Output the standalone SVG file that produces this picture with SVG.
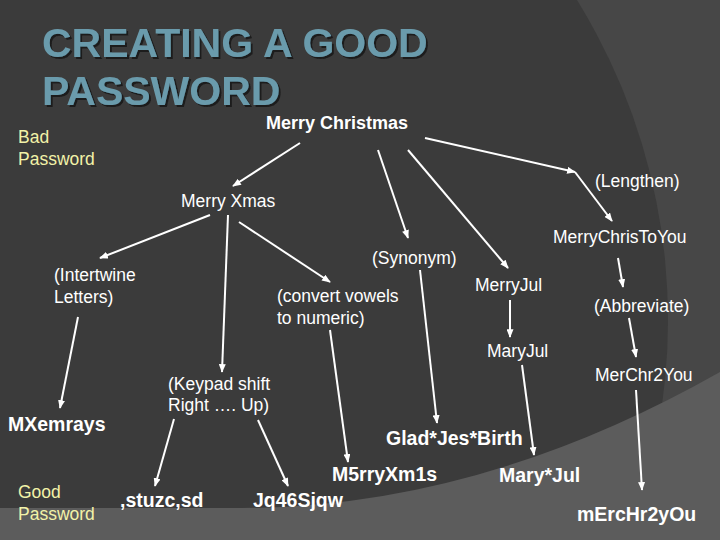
<svg xmlns="http://www.w3.org/2000/svg" width="720" height="540" viewBox="0 0 720 540">
<defs>
<style>
.title{font-family:"Liberation Sans",Arial,sans-serif;font-weight:bold;font-size:41px;fill:#6b9bac;filter:url(#sh)}
.lab{font-family:"Liberation Sans",Arial,sans-serif;font-size:17.5px;fill:#ffffff}
.bold{font-family:"Liberation Sans",Arial,sans-serif;font-weight:bold;font-size:19.5px;fill:#ffffff}
.yel{font-family:"Liberation Sans",Arial,sans-serif;font-size:17.5px;fill:#f2f2a8}
.arr{stroke:#ffffff;stroke-width:2;fill:none;marker-end:url(#ah)}
</style>
<filter id="sh" x="-5%" y="-20%" width="115%" height="150%">
<feDropShadow dx="2" dy="2" stdDeviation="0.4" flood-color="#1c1c1c" flood-opacity="1"/>
</filter>
<marker id="ah" viewBox="0 0 10 8" refX="9" refY="4" markerWidth="9" markerHeight="7" markerUnits="userSpaceOnUse" orient="auto">
<path d="M0,0 L10,4 L0,8 Z" fill="#ffffff"/>
</marker>
</defs>
<g id="background">
<rect x="0" y="0" width="720" height="540" fill="#474747"/>
<circle cx="60" cy="320" r="608" fill="#3b3b3b"/>
<path d="M0,508 L240,508 Q480,508 720,372 L720,540 L0,540 Z" fill="#5c5c5c"/>
</g>
<g id="title">
<text class="title" x="42" y="57">CREATING A GOOD</text>
<text class="title" x="42" y="105">PASSWORD</text>
</g>
<g id="connectors">
<line class="arr" x1="300" y1="143" x2="233" y2="186"/>
<line class="arr" x1="378" y1="150" x2="408" y2="238"/>
<line class="arr" x1="408" y1="150" x2="508" y2="268"/>
<line class="arr" x1="425" y1="138" x2="575" y2="172"/>
<line class="arr" x1="575" y1="172" x2="612" y2="221"/>
<line class="arr" x1="210" y1="215" x2="100" y2="258"/>
<line class="arr" x1="228" y1="215" x2="222" y2="372"/>
<line class="arr" x1="239" y1="222" x2="330" y2="282"/>
<line class="arr" x1="78" y1="317" x2="60" y2="408"/>
<line class="arr" x1="174" y1="419" x2="155" y2="486"/>
<line class="arr" x1="258" y1="420" x2="288" y2="486"/>
<line class="arr" x1="330" y1="330" x2="348" y2="462"/>
<line class="arr" x1="420" y1="270" x2="437" y2="423"/>
<line class="arr" x1="510" y1="300" x2="510" y2="337"/>
<line class="arr" x1="522" y1="365" x2="534" y2="455"/>
<line class="arr" x1="618" y1="258" x2="623" y2="287"/>
<line class="arr" x1="629" y1="318" x2="636" y2="357"/>
<line class="arr" x1="636" y1="390" x2="642" y2="490"/>
</g>
<g id="bad-password"><text class="yel" x="18" y="143">Bad</text><text class="yel" x="18" y="165">Password</text></g>
<g id="good-password"><text class="yel" x="18" y="498">Good</text><text class="yel" x="18" y="520">Password</text></g>
<g id="merry-christmas"><text class="bold" x="266" y="129" style="font-size:18px">Merry Christmas</text></g>
<g id="lengthen"><text class="lab" x="595" y="187">(Lengthen)</text></g>
<g id="merry-xmas"><text class="lab" x="181" y="207">Merry Xmas</text></g>
<g id="merrychristoyou"><text class="lab" x="553" y="243">MerryChrisToYou</text></g>
<g id="synonym"><text class="lab" x="372" y="264">(Synonym)</text></g>
<g id="intertwine"><text class="lab" x="54" y="281">(Intertwine</text><text class="lab" x="54" y="303">Letters)</text></g>
<g id="merryjul"><text class="lab" x="475" y="291">MerryJul</text></g>
<g id="convert"><text class="lab" x="277" y="302">(convert vowels</text><text class="lab" x="277" y="324">to numeric)</text></g>
<g id="abbreviate"><text class="lab" x="594" y="312">(Abbreviate)</text></g>
<g id="maryjul"><text class="lab" x="487" y="357">MaryJul</text></g>
<g id="merchr2you"><text class="lab" x="595" y="381">MerChr2You</text></g>
<g id="keypad"><text class="lab" x="168" y="390">(Keypad shift</text><text class="lab" x="168" y="411">Right …. Up)</text></g>
<g id="mxemrays"><text class="bold" x="8" y="431">MXemrays</text></g>
<g id="glad"><text class="bold" x="386" y="445">Glad*Jes*Birth</text></g>
<g id="m5rry"><text class="bold" x="332" y="481">M5rryXm1s</text></g>
<g id="mary-jul"><text class="bold" x="499" y="482">Mary*Jul</text></g>
<g id="stuzc"><text class="bold" x="120" y="507">,stuzc,sd</text></g>
<g id="jq46"><text class="bold" x="253" y="507">Jq46Sjqw</text></g>
<g id="merchr2you-pw"><text class="bold" x="577" y="521">mErcHr2yOu</text></g>
</svg>
